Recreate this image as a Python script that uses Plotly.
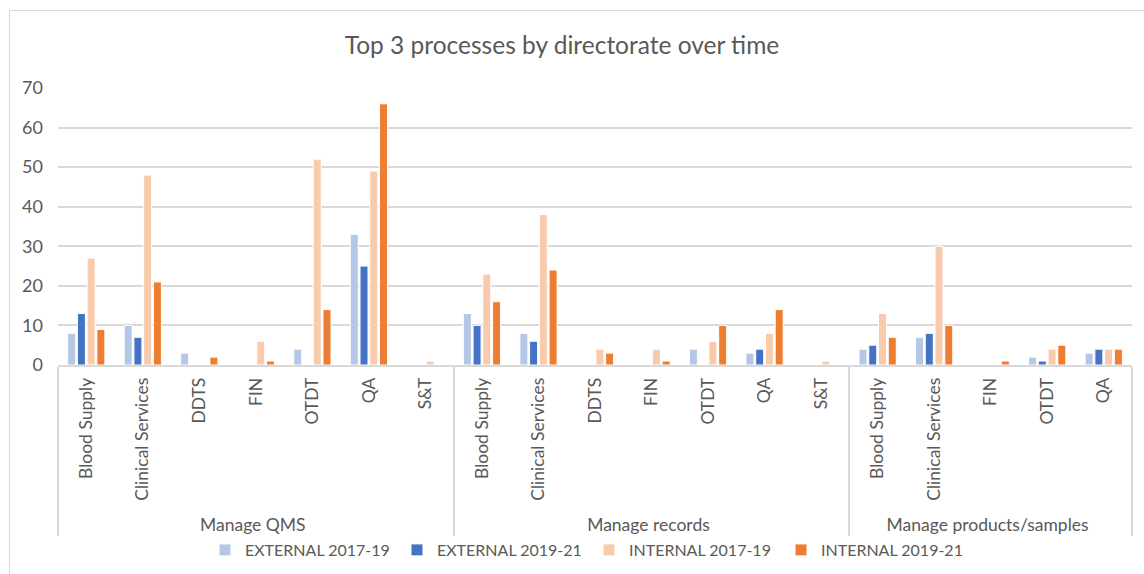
import plotly.graph_objects as go

groups = ["Manage QMS"] * 7 + ["Manage records"] * 7 + ["Manage products/samples"] * 5
directorates = ["Blood Supply", "Clinical Services", "DDTS", "FIN", "OTDT", "QA", "S&T",
                "Blood Supply", "Clinical Services", "DDTS", "FIN", "OTDT", "QA", "S&T",
                "Blood Supply", "Clinical Services", "FIN", "OTDT", "QA"]

ext_2017_19 = [8, 10, 3, 0, 4, 33, 0,   13, 8, 0, 0, 4, 3, 0,   4, 7, 0, 2, 3]
ext_2019_21 = [13, 7, 0, 0, 0, 25, 0,   10, 6, 0, 0, 0, 4, 0,   5, 8, 0, 1, 4]
int_2017_19 = [27, 48, 0, 6, 52, 49, 1, 23, 38, 4, 4, 6, 8, 1,  13, 30, 0, 4, 4]
int_2019_21 = [9, 21, 2, 1, 14, 66, 0,  16, 24, 3, 1, 10, 14, 0, 7, 10, 1, 5, 4]

series = [
    ("EXTERNAL 2017-19", ext_2017_19, "#B4C7E7"),
    ("EXTERNAL 2019-21", ext_2019_21, "#4472C4"),
    ("INTERNAL 2017-19", int_2017_19, "#F8CBAD"),
    ("INTERNAL 2019-21", int_2019_21, "#ED7D31"),
]

fig = go.Figure()
for name, vals, color in series:
    fig.add_trace(go.Bar(
        x=[groups, directorates], y=vals, name=name,
        marker=dict(color=color, line=dict(color="white", width=1)),
    ))

W, H = 1144, 574
L, R, T, B = 58, 12, 88, 209
pw, ph = W - L - R, H - T - B

def px(x):
    return (x - L) / pw

def py(y):
    return (H - B - y) / ph

font = "Lato, Carlito, 'Open Sans', sans-serif"
fig.update_layout(
    width=W, height=H,
    margin=dict(l=L, r=R, t=T, b=B, autoexpand=False),
    paper_bgcolor="white", plot_bgcolor="white",
    font=dict(family=font, color="#595959", size=17),
    barmode="group", bargap=0.31, bargroupgap=0.18,
    title=dict(text="Top 3 processes by directorate over time",
               x=px(562), xref="paper", xanchor="center",
               y=1 - 45 / H, yref="container", yanchor="middle",
               font=dict(size=24.5, color="#595959", family=font)),
    legend=dict(orientation="h", x=px(589), xanchor="center",
                y=py(550), yanchor="middle", bgcolor="rgba(0,0,0,0)",
                font=dict(size=16, color="#595959"),
                itemwidth=30, tracegroupgap=0,
                entrywidth=147, entrywidthmode="pixels"),
    showlegend=True,
    yaxis=dict(range=[0, 70], dtick=10, showgrid=True, gridcolor="#D9D9D9",
               gridwidth=1.5, zeroline=False, showline=False,
               tickfont=dict(size=18, color="#595959"), ticks="",
               ticklabelstandoff=14, fixedrange=True),
    xaxis=dict(type="multicategory", tickangle=-90, showline=True,
               linecolor="#D9D9D9", linewidth=1.5,
               showdividers=True, dividercolor="#D9D9D9", dividerwidth=1.5,
               tickfont=dict(size=17.5, color="#595959"), ticks="",
               ticklabelstandoff=4),
    shapes=[dict(type="rect", xref="paper", yref="paper",
                 x0=px(9.5), x1=px(1160), y0=py(10.5), y1=py(590),
                 line=dict(color="#D9D9D9", width=1), layer="below")],
)

fig.write_html("out.html")
